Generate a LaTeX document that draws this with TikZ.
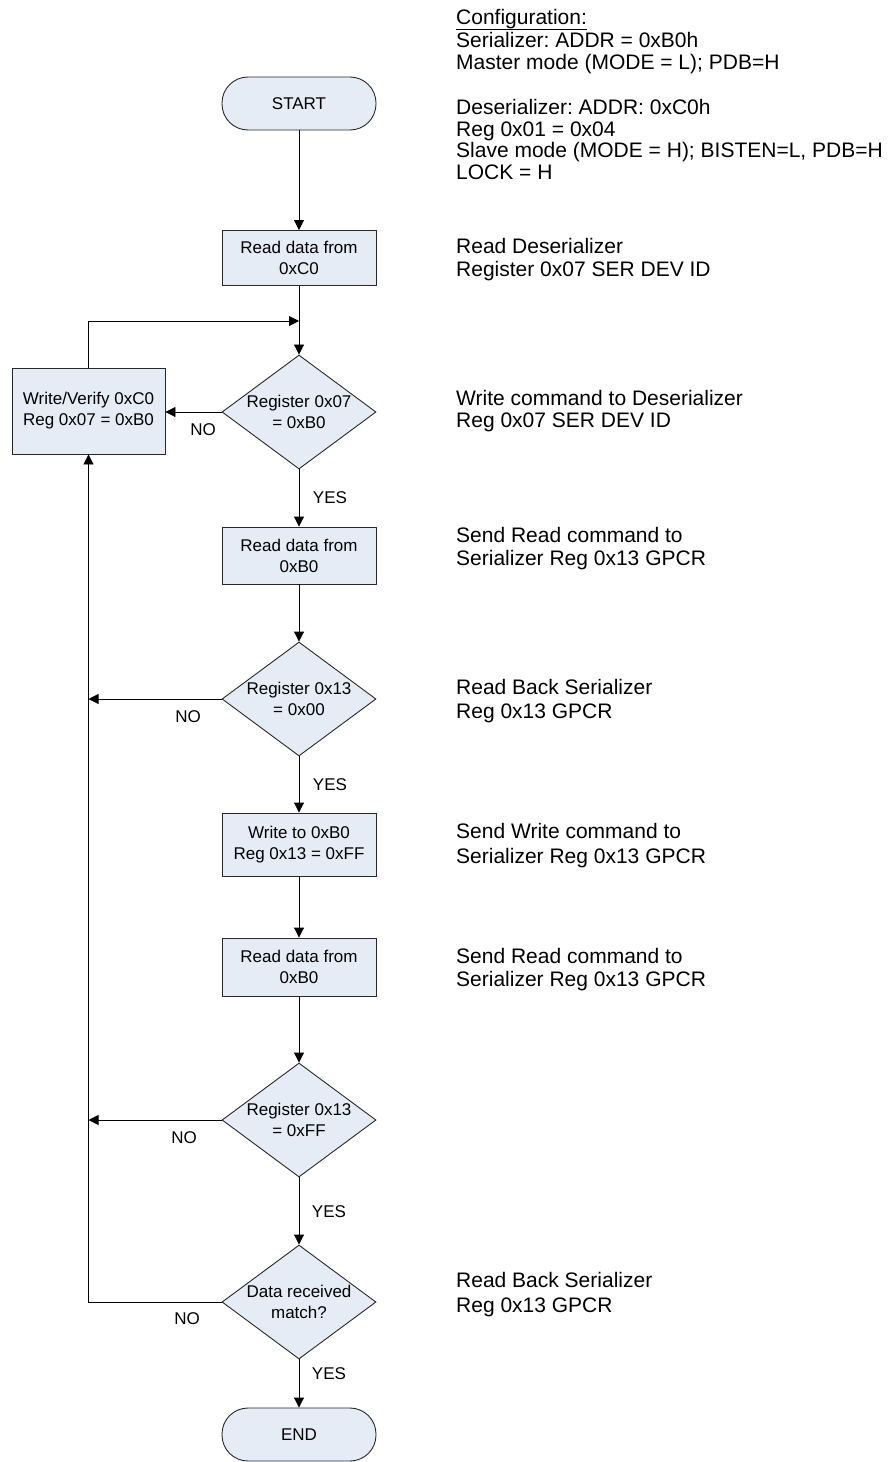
\documentclass[tikz,border=0pt]{standalone}
\usepackage{fontspec}
\setmainfont{Liberation Sans}
\usetikzlibrary{shapes.geometric,arrows.meta}
\definecolor{boxfill}{RGB}{230,236,246}
\definecolor{edgec}{RGB}{40,40,40}
\frenchspacing
\begin{document}
\begin{tikzpicture}[x=1bp,y=-1bp,
  every node/.style={font=\fontsize{17bp}{21bp}\selectfont},
  proc/.style={rectangle, draw=edgec, fill=boxfill, line width=0.9bp, minimum width=154bp, align=center, inner sep=0},
  term/.style={rectangle, rounded corners=26bp, draw=edgec, fill=boxfill, line width=0.9bp, minimum width=154bp, minimum height=53bp, inner sep=0},
  dec/.style={diamond, draw=edgec, fill=boxfill, line width=0.9bp, minimum width=154bp, minimum height=114bp, inner xsep=-30bp, inner ysep=-15bp, align=center},
  arr/.style={-{Triangle[width=10bp,length=10bp]}, line width=0.9bp},
  lbl/.style={inner sep=0},
  rt/.style={anchor=base west, inner sep=0, font=\fontsize{21bp}{22bp}\selectfont}
]
\useasboundingbox (0,0) rectangle (891,1462);

% flow nodes
\node[term] (start) at (299,103.5) {START};
\node[proc, minimum height=55bp] (b1) at (299,258) {Read data from\\0xC0};
\node[dec] (d1) at (299,412) {Register 0x07\\= 0xB0};
\node[proc, minimum width=153bp, minimum height=86bp] (w) at (88.5,411) {Write/Verify 0xC0\\Reg 0x07 = 0xB0};
\node[proc, minimum height=57bp] (b2) at (299,555.5) {Read data from\\0xB0};
\node[dec] (d2) at (299,699) {Register 0x13\\= 0x00};
\node[proc, minimum height=63bp] (b3) at (299,844.5) {Write to 0xB0\\Reg 0x13 = 0xFF};
\node[proc, minimum height=58bp] (b4) at (299,967) {Read data from\\0xB0};
\node[dec] (d3) at (299,1120) {Register 0x13\\= 0xFF};
\node[dec] (d4) at (299,1302) {Data received\\match?};
\node[term] (end) at (299,1434.5) {END};

% connectors
\coordinate (j1) at (299,321);
\draw[arr] (start) -- (b1);
\draw[arr] (b1) -- (d1);
\draw[arr] (w.north) |- (j1);
\draw[arr] (d1.west) -- (d1.west -| w.east);
\draw[arr] (d1) -- (b2);
\draw[arr] (b2) -- (d2);
\draw[arr] (d2.west) -- (d2.west -| w.south);
\draw[arr] (d2) -- (b3);
\draw[arr] (b3) -- (b4);
\draw[arr] (b4) -- (d3);
\draw[arr] (d3.west) -- (d3.west -| w.south);
\draw[arr] (d3) -- (d4);
\draw[arr] (d4.west) -| (w.south);
\draw[arr] (d4) -- (end);

% branch labels
\node[lbl] (no1) at (203,430) {NO};
\node[lbl] (no2) at (188,717) {NO};
\node[lbl] (no3) at (184,1138) {NO};
\node[lbl] (no4) at (187,1319) {NO};
\node[lbl] (yes1) at (330,498) {YES};
\node[lbl] (yes2) at (330,785) {YES};
\node[lbl] (yes3) at (329,1212) {YES};
\node[lbl] (yes4) at (329,1374) {YES};

% right-hand notes
\node[rt] (cfg) at (456,25) {Configuration:};
\draw[line width=0.9bp] ([yshift=-4bp]cfg.base west) -- ([yshift=-4bp]cfg.base east);
\node[rt] (t2) at (456,48) {Serializer: ADDR = 0xB0h};
\node[rt] (t3) at (456,70) {Master mode (MODE = L); PDB=H};
\node[rt] (t4) at (456,115) {Deserializer: ADDR: 0xC0h};
\node[rt] (t5) at (456,137) {Reg 0x01 = 0x04};
\node[rt] (t6) at (456,158) {Slave mode (MODE = H); BISTEN=L, PDB=H};
\node[rt] (t7) at (456,180) {LOCK = H};
\node[rt] (n1a) at (456,253) {Read Deserializer};
\node[rt] (n1b) at (456,276) {Register 0x07 SER DEV ID};
\node[rt] (n2a) at (456,405) {Write command to Deserializer};
\node[rt] (n2b) at (456,427) {Reg 0x07 SER DEV ID};
\node[rt] (n3a) at (456,542) {Send Read command to};
\node[rt] (n3b) at (456,565) {Serializer Reg 0x13 GPCR};
\node[rt] (n4a) at (456,694) {Read Back Serializer};
\node[rt] (n4b) at (456,718) {Reg 0x13 GPCR};
\node[rt] (n5a) at (456,838) {Send Write command to};
\node[rt] (n5b) at (456,863) {Serializer Reg 0x13 GPCR};
\node[rt] (n6a) at (456,963) {Send Read command to};
\node[rt] (n6b) at (456,986) {Serializer Reg 0x13 GPCR};
\node[rt] (n7a) at (456,1287) {Read Back Serializer};
\node[rt] (n7b) at (456,1312) {Reg 0x13 GPCR};
\end{tikzpicture}
\end{document}
